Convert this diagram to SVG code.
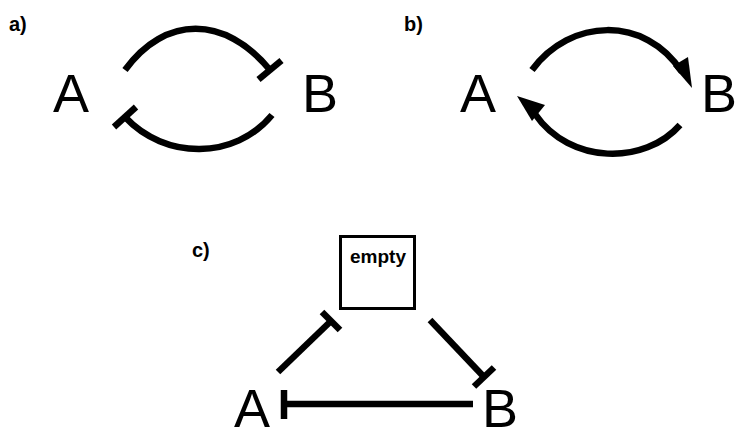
<svg xmlns="http://www.w3.org/2000/svg" width="739" height="428" viewBox="0 0 739 428">
  <style>
    .lbl { font-family: "Liberation Sans", Arial, sans-serif; font-weight: bold; font-size: 20px; fill: #000; }
    .node { font-family: "Liberation Sans", Arial, sans-serif; font-size: 54px; fill: #000; }
    .small { font-family: "Liberation Sans", Arial, sans-serif; font-weight: bold; font-size: 19px; fill: #000; }
    .edge { fill: none; stroke: #000; stroke-width: 6.5; stroke-linecap: butt; }
    .bar { stroke: #000; stroke-width: 6.5; stroke-linecap: butt; }
    .box { fill: #fff; stroke: #000; stroke-width: 3; }
  </style>

  <!-- panel labels -->
  <text class="lbl" x="9" y="31">a)</text>
  <text class="lbl" x="404" y="31">b)</text>
  <text class="lbl" x="192" y="257">c)</text>

  <!-- panel a: mutual inhibition -->
  <g id="a-A"><text class="node" x="71" y="112" text-anchor="middle">A</text></g>
  <g id="a-B"><text class="node" x="320" y="112" text-anchor="middle">B</text></g>

  <!-- panel b: mutual activation -->
  <g id="b-A"><text class="node" x="478" y="112" text-anchor="middle">A</text></g>
  <g id="b-B"><text class="node" x="701" y="112">B</text></g>

  <!-- panel c: A, B and the empty state -->
  <g id="c-empty">
    <rect class="box" x="340.5" y="236.5" width="74" height="72"/>
    <text class="small" x="378" y="263" text-anchor="middle">empty</text>
  </g>
  <g id="c-A"><text class="node" x="252" y="427" text-anchor="middle">A</text></g>
  <g id="c-B"><text class="node" x="500" y="427" text-anchor="middle">B</text></g>

  <g id="connectors">
    <!-- a: A inhibits B (top), B inhibits A (bottom) -->
    <path class="edge" d="M125,70 C165,15 225,15 270,70"/>
    <line class="bar" x1="258.5" y1="79.5" x2="281.5" y2="60.5"/>
    <path class="edge" d="M272,115 C235,160 165,160 125,117"/>
    <line class="bar" x1="114" y1="127" x2="136" y2="107"/>

    <!-- b: A activates B (top), B activates A (bottom) -->
    <path class="edge" d="M532,70 C570,18 645,15 682,72"/>
    <polygon points="692,88 673,66 688,57" fill="#000"/>
    <path class="edge" d="M680,125 C645,165 570,165 535,114"/>
    <polygon points="517,96 545,105 532,121" fill="#000"/>

    <!-- c: A inhibits empty, empty inhibits B, B inhibits A -->
    <line class="edge" x1="278" y1="372" x2="331" y2="321"/>
    <line class="bar" x1="322" y1="312" x2="340" y2="330"/>
    <line class="edge" x1="430" y1="320" x2="484" y2="377"/>
    <line class="bar" x1="474" y1="386.5" x2="494" y2="367.5"/>
    <line class="edge" x1="473" y1="404" x2="284" y2="404"/>
    <line class="bar" x1="284" y1="390" x2="284" y2="419"/>
  </g>
</svg>
